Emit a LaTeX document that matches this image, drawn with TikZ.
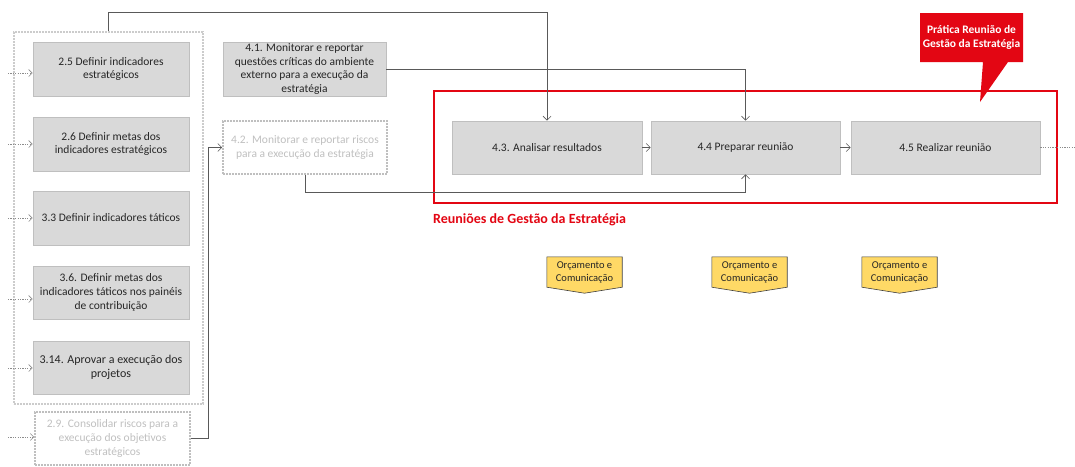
\documentclass[tikz,border=0pt]{standalone}
\usepackage{fontspec}
\setmainfont{Carlito}
\usetikzlibrary{arrows.meta,backgrounds,calc}
\definecolor{boxfill}{HTML}{D9D9D9}
\definecolor{boxline}{HTML}{BFBFBF}
\definecolor{txt}{HTML}{262626}
\definecolor{ghost}{HTML}{C0C0C0}
\definecolor{conn}{HTML}{595959}
\definecolor{dotconn}{HTML}{8C8C8C}
\definecolor{redc}{HTML}{E30613}
\definecolor{orcfill}{HTML}{FFD966}
\definecolor{orcline}{HTML}{3F3F3F}
\tikzset{
  task/.style={draw=boxline, line width=0.8pt, fill=boxfill, text=txt, align=center,
    inner sep=1pt, font=\fontsize{11.5}{13.7}\selectfont},
  ghosttask/.style={draw=boxline, line width=1.6pt, dash pattern=on 1.6pt off 1.4pt,
    text=ghost, align=center, inner sep=1pt, font=\fontsize{11.5}{13.7}\selectfont},
  grpbox/.style={draw=boxline!80, line width=1.6pt, dash pattern=on 1.6pt off 1.4pt},
  link/.style={draw=conn, line width=0.6pt, -{Straight Barb[length=4pt,width=8pt]}},
  dotlink/.style={draw=dotconn, line width=0.6pt, dash pattern=on 1.2pt off 1.2pt,
    -{Straight Barb[length=3.5pt,width=7pt]}},
  orc/.style={text=txt, align=center, inner sep=0pt, minimum width=75pt, minimum height=30pt,
    font=\fontsize{10.5}{13}\selectfont},
  orcshape/.style={fill=orcfill, draw=orcline, line width=0.6pt},
}
\begin{document}
\begin{tikzpicture}[x=1pt,y=-1pt]
\useasboundingbox (0,0) rectangle (1075,466);
\begin{pgfonlayer}{background}
\fill[white] (0,0) rectangle (1075,466);
\end{pgfonlayer}

% group container
\node[grpbox, minimum width=189pt, minimum height=372pt, inner sep=0pt] (grp) at (108.5,218) {};

% left column tasks
\node[task, minimum width=156pt, minimum height=54pt] (a25) at (111,69) {2.5 Definir indicadores\\estratégicos};
\node[task, minimum width=156pt, minimum height=54pt] (a26) at (111,144) {2.6 Definir metas dos\\indicadores estratégicos};
\node[task, minimum width=156pt, minimum height=54pt] (a33) at (111,218) {3.3 Definir indicadores táticos};
\node[task, minimum width=156pt, minimum height=53pt] (a36) at (111,292.5) {3.6. Definir metas dos\\indicadores táticos nos painéis\\de contribuição};
\node[task, minimum width=156pt, minimum height=53pt, font=\fontsize{12}{14.5}\selectfont] (a314) at (111,367.5) {3.14. Aprovar a execução dos\\projetos};
\node[ghosttask, minimum width=155pt, minimum height=53pt] (a29) at (112.5,438.5) {2.9. Consolidar riscos para a\\execução dos objetivos\\estratégicos};

% middle column
\node[task, minimum width=163pt, minimum height=54pt] (a41) at (304.5,69) {4.1. Monitorar e reportar\\questões críticas do ambiente\\externo para a execução da\\estratégia};
\node[ghosttask, minimum width=164pt, minimum height=53pt] (a42) at (305,147.5) {4.2. Monitorar e reportar riscos\\para a execução da estratégia};

% red group
\node[draw=redc, line width=2pt, minimum width=623pt, minimum height=112pt, inner sep=0pt] (red) at (745.5,147) {};
\node[anchor=west, text=redc, font=\bfseries\fontsize{14}{16}\selectfont, inner sep=0pt] (redlbl) at (433,220) {Reuniões de Gestão da Estratégia};

% meeting tasks
\node[task, minimum width=190pt, minimum height=53pt] (a43) at (547,147.5) {4.3. Analisar resultados};
\node[task, minimum width=189pt, minimum height=53pt] (a44) at (745.5,147.5) {4.4 Preparar reunião};
\node[task, minimum width=189pt, minimum height=53pt] (a45) at (945.5,147.5) {4.5 Realizar reunião};

% callout
\fill[redc] (920,13) -- (1023,13) -- (1023,62) -- (1008,62) -- (980,102) -- (983,62) -- (920,62) -- cycle;
\node[text=white, align=center, font=\bfseries\fontsize{11.5}{14}\selectfont, inner sep=0pt] (callout) at (971.5,37) {Prática Reunião de\\Gestão da Estratégia};

% Orçamento e Comunicação tags
\node[orc] (o1) at (584.5,272) {Orçamento e\\Comunicação};
\node[orc] (o2) at (749.5,272) {Orçamento e\\Comunicação};
\node[orc] (o3) at (899.5,272) {Orçamento e\\Comunicação};
\begin{pgfonlayer}{background}
\foreach \o in {o1,o2,o3}{
  \draw[orcshape] (\o.north west) -- (\o.north east) -- (\o.south east) -- ($(\o.south)+(0,6)$) -- (\o.south west) -- cycle;
}
\end{pgfonlayer}

% coordinates
\coordinate (t1) at (108.5,12);
\coordinate (b1) at (305,192);
\coordinate (c1) at (208,438.5);
\coordinate (e1) at (1080,147.5);
\coordinate (l1) at (8,73);
\coordinate (l2) at (8,144);
\coordinate (l3) at (8,218);
\coordinate (l4) at (8,299);
\coordinate (l5) at (8,368);
\coordinate (l6) at (8,437);

% connectors
\draw[link] (grp.north) -- (t1) -| (a43.north);
\draw[link] (a41.east) -| (a44.north);
\draw[link] (a42.south) -- (b1) -| (a44.south);
\draw[link] (a29.east) -- (c1) |- (a42.west);
\draw[link] (a43) -- (a44);
\draw[link] (a44) -- (a45);
\draw[dotlink] (a45.east) -- (e1);

\draw[dotlink] (l1) -- (l1 -| a25.west);
\draw[dotlink] (l2) -- (l2 -| a26.west);
\draw[dotlink] (l3) -- (l3 -| a33.west);
\draw[dotlink] (l4) -- (l4 -| a36.west);
\draw[dotlink] (l5) -- (l5 -| a314.west);
\draw[dotlink] (l6) -- (l6 -| a29.west);
\end{tikzpicture}
\end{document}
